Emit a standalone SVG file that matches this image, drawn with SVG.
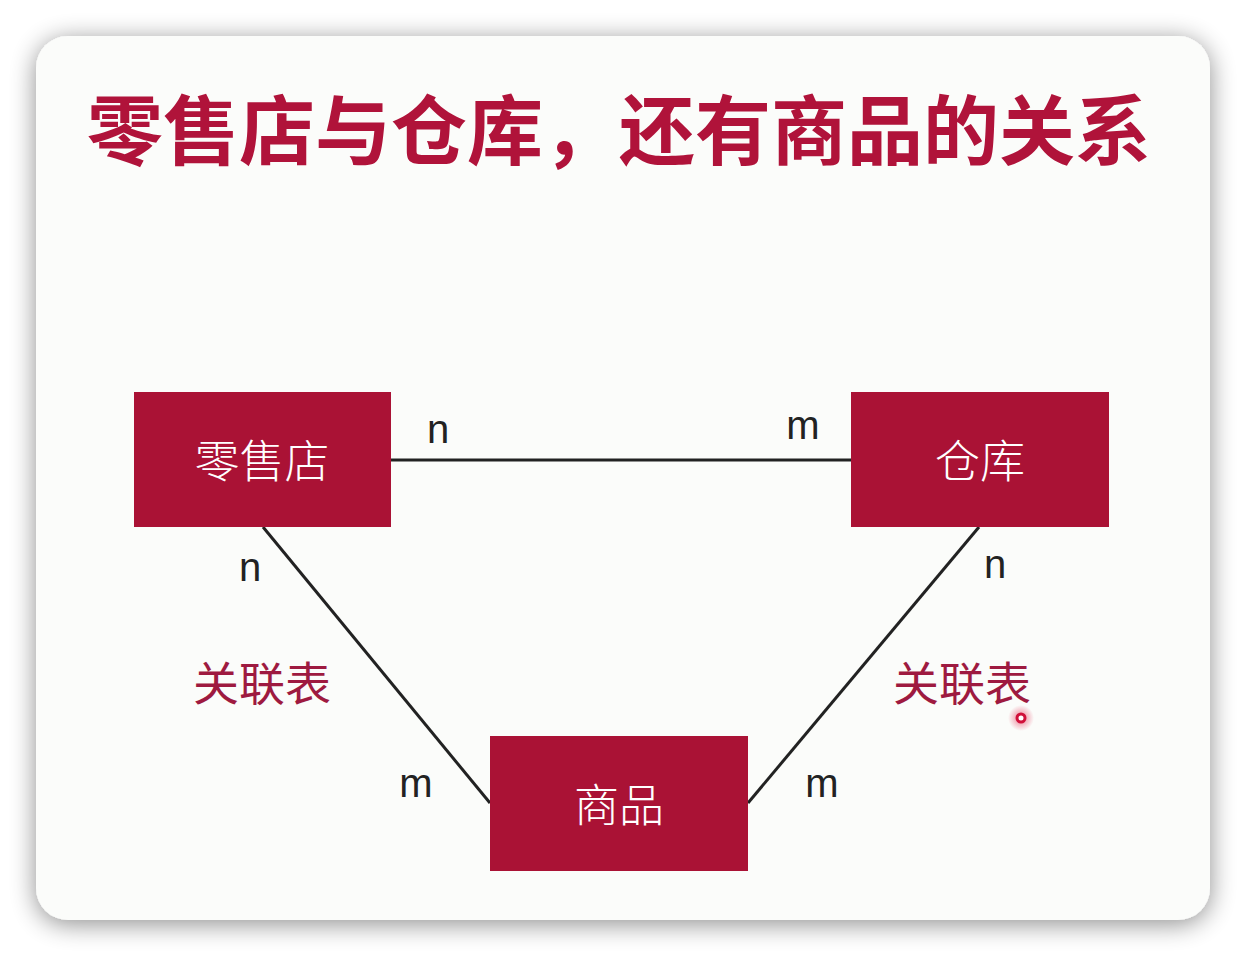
<svg xmlns="http://www.w3.org/2000/svg" width="1246" height="956" viewBox="0 0 1246 956">
<defs>
<filter id="sh" x="-10%" y="-10%" width="120%" height="120%">
<feGaussianBlur in="SourceAlpha" stdDeviation="13"/>
<feOffset dx="0" dy="4"/>
<feComponentTransfer><feFuncA type="linear" slope="0.45"/></feComponentTransfer>
<feMerge><feMergeNode/><feMergeNode in="SourceGraphic"/></feMerge>
</filter>
<radialGradient id="glow"><stop offset="0" stop-color="#e0103a" stop-opacity="0.55"/><stop offset="1" stop-color="#e0103a" stop-opacity="0"/></radialGradient>
</defs>
<style>
.box{fill:#AA1235;}
.nt{fill:#ffffff;font-family:"Noto Sans CJK SC","Noto Sans",sans-serif;font-size:45px;font-weight:300;text-anchor:middle;}
.lbl{fill:#222;font-family:"Liberation Sans",Arial,sans-serif;font-size:40px;text-anchor:middle;}
.rel{fill:#9E1A40;font-family:"Noto Sans CJK SC",sans-serif;font-size:46px;text-anchor:middle;}
.ln{stroke:#222;stroke-width:3;fill:none;}
</style>
<rect width="1246" height="956" fill="#ffffff"/>
<rect x="36" y="36" width="1174" height="884" rx="32" fill="#FBFCFA" filter="url(#sh)"/>
<text x="619" y="159" fill="#B0133A" font-family="'Noto Sans CJK SC',sans-serif" font-size="76" font-weight="700" text-anchor="middle">零售店与仓库，还有商品的关系</text>
<g id="connectors">
<line class="ln" x1="391" y1="460" x2="851" y2="460"/>
<line class="ln" x1="263" y1="527" x2="490" y2="803"/>
<line class="ln" x1="979" y1="527" x2="748" y2="803"/>
</g>
<g id="store"><rect class="box" x="134" y="392" width="257" height="135"/><text class="nt" x="262" y="478">零售店</text></g>
<g id="warehouse"><rect class="box" x="851" y="392" width="258" height="135"/><text class="nt" x="980" y="478">仓库</text></g>
<g id="goods"><rect class="box" x="490" y="736" width="258" height="135"/><text class="nt" x="619" y="822">商品</text></g>
<g id="labels">
<text class="lbl" x="438" y="443">n</text>
<text class="lbl" x="803" y="439">m</text>
<text class="lbl" x="250" y="581">n</text>
<text class="lbl" x="995" y="578">n</text>
<text class="lbl" x="416" y="797">m</text>
<text class="lbl" x="822" y="797">m</text>
<text class="rel" x="262" y="700">关联表</text>
<text class="rel" x="962" y="700">关联表</text>
</g>
<circle cx="1021" cy="718" r="13" fill="url(#glow)"/>
<circle cx="1021" cy="718" r="4" fill="#fff" stroke="#d0103a" stroke-width="3"/>
</svg>
